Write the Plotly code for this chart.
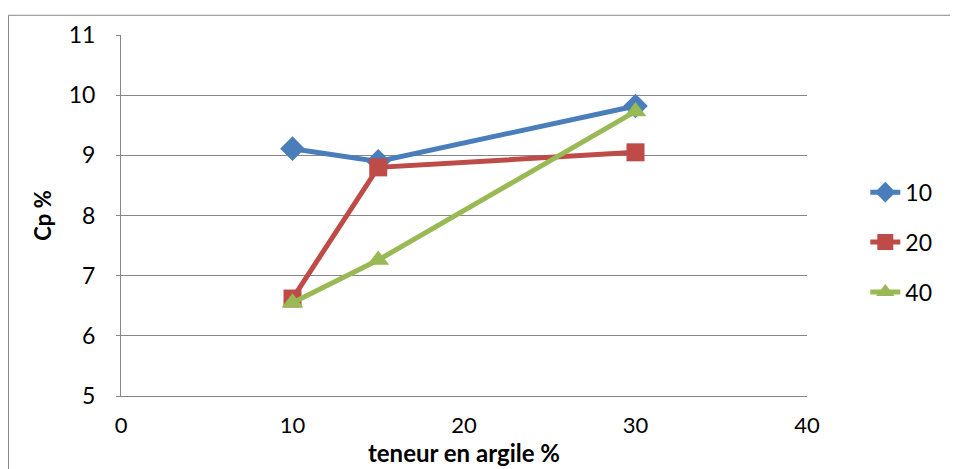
import plotly.graph_objects as go

x_vals = [10, 15, 30]
series_names = ["10", "20", "40"]
cp_10 = [9.11, 8.90, 9.82]
cp_20 = [6.62, 8.80, 9.05]
cp_40 = [6.55, 7.26, 9.73]
x_ticks = [0, 10, 20, 30, 40]
y_ticks = [5, 6, 7, 8, 9, 10, 11]

colors = ["#4A7EBB", "#BE4B48", "#98B954"]
symbols = ["diamond", "square", "triangle-up"]
sizes = [19, 18, 19]

fig = go.Figure()
for name, ys, c, s, sz in zip(series_names, [cp_10, cp_20, cp_40], colors, symbols, sizes):
    fig.add_trace(go.Scatter(x=x_vals, y=ys, name=name, mode="lines+markers",
                             legendgroup=name,
                             line=dict(color=c, width=5),
                             marker=dict(symbol=s, size=sz, color=c)))

# page body has an 8px margin, so figure coords = screen coords - 8
L, T, PW, PH = 113, 22, 686, 366
font_family = "Lato, Open Sans, sans-serif"
fig.update_layout(
    width=958, height=469,
    margin=dict(l=L, r=958 - L - PW, t=T, b=469 - T - PH),
    paper_bgcolor="white", plot_bgcolor="white",
    font=dict(family=font_family, size=23, color="#000"),
    showlegend=True,
    legend=dict(x=1.085, y=0.426, xanchor="left", yanchor="middle",
                font=dict(size=23), tracegroupgap=17, traceorder="grouped",
                itemsizing="trace"),
    xaxis=dict(range=[0, 40], tickvals=x_ticks, showgrid=False, zeroline=False,
               showline=True, linecolor="#868686", linewidth=1,
               ticks="", ticklen=0, tickfont=dict(size=22),
               title=dict(text="<b>teneur en argile %</b>", font=dict(size=24), standoff=0)),
    yaxis=dict(range=[5, 11], tickvals=y_ticks, showgrid=True, gridcolor="#868686",
               gridwidth=1, zeroline=False, showline=True, linecolor="#868686",
               linewidth=1, ticks="outside", ticklen=4, tickcolor="#868686",
               title=dict(text="<b>Cp %</b>", font=dict(size=22), standoff=11)),
)
fig.update_xaxes(ticklabelstandoff=10)
fig.update_yaxes(ticklabelstandoff=16)

fig.add_shape(type="rect", xref="paper", yref="paper",
              x0=(0.5 - L) / PW, x1=1.4, y0=-0.4, y1=1 + 20 / PH,
              line=dict(color="#868686", width=1), fillcolor="rgba(0,0,0,0)", layer="below")

fig.write_html("out.html")
